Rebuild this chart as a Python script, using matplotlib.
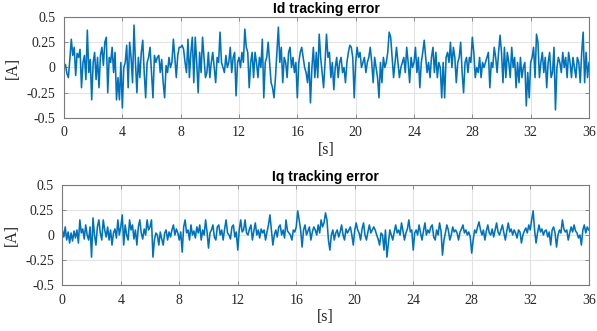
"""Id / Iq tracking error plots, MATLAB-like style."""

import numpy as np
import matplotlib

matplotlib.use("Agg")
import matplotlib.pyplot as plt

# sample time of the read-off data (s)
time_step = 0.1

id_error = [
    0.00, 0.03, -0.06, -0.10, 0.08, 0.28, 0.12, 0.20, -0.08, 0.14,
    0.10, 0.18, -0.20, 0.05, 0.12, -0.12, 0.37, -0.05, 0.08, -0.32,
    0.05, 0.15, -0.12, 0.10, -0.20, 0.12, 0.20, 0.02, 0.25, 0.30,
    -0.25, 0.10, 0.05, 0.20, -0.05, 0.15, -0.32, -0.10, -0.32, 0.05,
    -0.40, 0.00, 0.05, 0.22, -0.20, 0.25, 0.10, -0.15, 0.42, 0.05,
    -0.25, 0.10, -0.10, 0.15, 0.27, -0.05, -0.30, 0.05, 0.10, 0.20,
    -0.05, -0.30, 0.12, 0.05, 0.10, 0.12, -0.05, 0.08, -0.15, -0.30,
    0.02, -0.05, 0.10, 0.00, 0.05, 0.28, 0.10, -0.10, 0.12, 0.20,
    0.20, 0.22, 0.18, 0.05, -0.05, 0.28, -0.10, 0.15, 0.30, -0.15,
    0.30, 0.05, -0.25, 0.15, -0.05, 0.30, 0.10, -0.10, -0.05, 0.15,
    -0.10, 0.05, 0.15, 0.00, -0.15, 0.10, 0.05, 0.35, 0.05, 0.00,
    -0.05, 0.12, 0.00, 0.05, 0.20, -0.05, 0.10, 0.15, -0.28, 0.05,
    0.10, 0.00, 0.15, 0.05, 0.38, 0.20, 0.15, -0.20, 0.05, 0.15,
    -0.10, 0.15, 0.05, -0.10, 0.10, 0.00, 0.28, -0.30, 0.05, 0.10,
    0.25, 0.05, -0.15, -0.20, -0.30, -0.10, 0.15, 0.40, 0.05, 0.20,
    -0.15, 0.10, 0.05, -0.10, 0.15, 0.20, 0.00, 0.10, -0.05, 0.05,
    -0.30, 0.05, 0.15, 0.20, 0.10, 0.00, -0.05, -0.15, 0.05, -0.35,
    0.00, 0.20, -0.10, 0.15, -0.10, 0.33, 0.10, -0.05, -0.20, 0.05,
    0.33, 0.10, 0.15, -0.10, 0.05, -0.22, 0.00, 0.10, -0.10, 0.05,
    0.10, -0.05, 0.00, -0.15, 0.05, 0.15, 0.22, 0.20, 0.10, -0.30,
    0.05, 0.20, 0.10, 0.15, 0.00, 0.05, 0.10, -0.05, 0.05, 0.10,
    0.20, 0.05, -0.15, 0.10, 0.00, -0.10, -0.30, 0.05, -0.15, 0.10,
    0.00, 0.05, 0.15, 0.35, 0.30, 0.10, -0.10, 0.05, 0.20, 0.05,
    -0.10, 0.00, 0.05, 0.10, -0.05, 0.20, 0.05, -0.15, 0.10, 0.00,
    0.05, 0.20, -0.05, 0.10, -0.20, 0.05, 0.15, 0.27, 0.10, -0.05,
    0.05, -0.10, 0.10, 0.20, -0.05, 0.15, -0.10, 0.05, 0.00, -0.30,
    0.05, -0.30, 0.10, 0.15, 0.05, 0.25, 0.00, 0.20, 0.10, -0.15,
    0.05, 0.10, 0.25, -0.05, -0.25, 0.05, 0.10, -0.05, 0.10, 0.05,
    0.30, 0.15, -0.10, 0.00, -0.05, 0.10, -0.10, 0.05, 0.00, 0.05,
    0.10, 0.15, -0.20, 0.05, 0.00, 0.20, 0.10, -0.05, 0.15, 0.32,
    0.15, -0.15, 0.20, -0.10, 0.15, 0.05, -0.10, 0.20, 0.00, 0.10,
    -0.20, 0.05, -0.15, 0.10, -0.10, 0.00, 0.05, -0.38, -0.05, -0.30,
    0.05, 0.10, 0.20, -0.10, 0.33, 0.25, -0.10, 0.05, 0.15, -0.05,
    0.10, -0.20, 0.05, 0.15, -0.10, -0.05, 0.20, -0.42, 0.00, 0.10,
    0.05, -0.05, 0.15, 0.00, 0.10, -0.10, 0.15, 0.05, -0.10, 0.10,
    0.00, -0.10, 0.10, 0.05, -0.15, 0.15, 0.35, -0.15, 0.15, -0.10,
    0.05,
]

iq_error = [
    0.05, -0.02, 0.08, -0.05, 0.03, -0.08, 0.02, -0.06, 0.04, -0.03,
    0.05, -0.08, 0.15, 0.02, 0.06, -0.04, 0.10, 0.00, -0.05, 0.08,
    -0.22, 0.17, 0.00, -0.10, 0.08, 0.15, 0.02, -0.05, 0.15, 0.05,
    -0.02, 0.08, -0.05, 0.05, -0.10, 0.02, 0.06, -0.03, 0.15, 0.00,
    0.08, 0.20, -0.10, 0.10, 0.00, -0.05, 0.15, 0.05, 0.10, -0.04,
    0.05, -0.10, 0.08, 0.15, 0.02, -0.04, 0.06, 0.00, 0.15, 0.05,
    0.08, 0.15, -0.22, -0.05, 0.02, 0.00, -0.10, 0.03, -0.04, -0.10,
    0.02, 0.05, -0.05, 0.03, -0.02, 0.05, 0.10, 0.00, 0.06, 0.02,
    -0.05, 0.03, -0.17, 0.08, 0.15, 0.02, 0.05, -0.05, 0.10, 0.00,
    0.04, -0.03, 0.08, 0.02, 0.10, -0.05, 0.05, 0.00, 0.15, 0.03,
    -0.13, 0.02, 0.05, 0.10, -0.02, -0.05, 0.08, 0.10, 0.00, 0.05,
    -0.05, 0.06, 0.15, 0.02, 0.00, -0.04, 0.08, 0.10, -0.02, 0.03,
    -0.15, 0.05, 0.15, 0.03, 0.05, 0.15, 0.02, 0.00, 0.06, 0.10,
    -0.05, 0.04, 0.12, 0.00, 0.05, -0.03, 0.06, 0.02, 0.05, -0.05,
    0.03, 0.10, 0.20, 0.05, -0.10, 0.00, 0.05, -0.02, 0.08, 0.10,
    0.00, 0.05, -0.03, 0.15, 0.04, 0.02, 0.00, -0.05, 0.05, 0.03,
    0.08, 0.24, 0.15, 0.05, -0.12, 0.05, 0.10, 0.00, 0.04, 0.08,
    -0.05, 0.03, 0.08, 0.05, 0.00, 0.10, 0.02, 0.15, 0.08, 0.12,
    0.22, 0.15, -0.05, -0.15, 0.00, 0.05, -0.05, 0.02, 0.05, -0.02,
    0.03, 0.10, 0.00, -0.05, 0.06, 0.02, 0.05, 0.08, 0.00, -0.10,
    0.05, 0.12, 0.05, 0.02, -0.05, 0.06, 0.12, 0.00, -0.05, 0.03,
    0.10, 0.02, 0.05, 0.08, 0.05, 0.00, -0.04, -0.10, 0.02, 0.00,
    -0.15, 0.05, -0.22, -0.08, 0.05, 0.00, -0.05, 0.03, 0.10, 0.02,
    0.05, 0.00, 0.12, 0.04, -0.05, 0.02, 0.06, 0.15, 0.03, 0.05,
    -0.15, 0.02, 0.05, 0.00, 0.10, 0.02, -0.05, 0.04, 0.12, 0.00,
    0.05, 0.02, 0.08, 0.10, -0.02, -0.05, 0.05, 0.00, 0.12, 0.04,
    -0.20, -0.05, 0.02, 0.10, 0.05, -0.05, 0.00, 0.08, 0.03, 0.05,
    0.02, -0.05, 0.03, 0.06, 0.10, 0.02, 0.05, 0.00, 0.03, -0.02,
    -0.18, -0.05, 0.05, 0.02, 0.08, 0.13, 0.05, 0.00, 0.05, -0.05,
    0.04, 0.10, 0.02, 0.00, 0.06, -0.02, 0.05, 0.12, 0.03, 0.00,
    0.05, 0.10, 0.02, -0.05, 0.04, 0.12, 0.03, 0.06, 0.00, 0.05,
    0.02, -0.03, 0.05, 0.03, -0.08, 0.00, 0.04, 0.07, 0.02, 0.10,
    0.05, 0.15, 0.24, 0.05, -0.08, 0.02, 0.10, 0.03, 0.06, 0.00,
    0.04, 0.05, -0.02, 0.03, -0.10, 0.05, 0.08, 0.02, -0.12, 0.00,
    0.05, 0.02, 0.15, 0.06, 0.03, 0.05, -0.05, 0.02, 0.08, 0.03,
    0.10, 0.04, 0.02, -0.03, 0.00, -0.10, 0.05, 0.10, 0.02, 0.08,
    0.05,
]

x_ticks = [0, 4, 8, 12, 16, 20, 24, 28, 32, 36]
y_ticks = [-0.5, -0.25, 0, 0.25, 0.5]
y_tick_labels = ["-0.5", "-0.25", "0", "0.25", "0.5"]
titles = ["Id tracking error", "Iq tracking error"]

LINE_COLOR = "#0072BD"
SPINE_COLOR = "#7a7a7a"
TEXT_COLOR = "#262626"
SERIF = ["Liberation Serif", "DejaVu Serif"]
SANS = ["Liberation Sans", "DejaVu Sans"]


def _style_axes(ax, title):
    """Apply MATLAB-like look to one axes."""
    ax.set_xlim(0, 36)
    ax.set_ylim(-0.5, 0.5)
    ax.set_xticks(x_ticks)
    ax.set_yticks(y_ticks)
    ax.set_yticklabels(y_tick_labels)
    ax.grid(True, color="#e3e3e3", linewidth=0.8)
    ax.set_axisbelow(True)
    ax.tick_params(direction="in", length=3, width=0.6, colors=SPINE_COLOR,
                   labelcolor=TEXT_COLOR, labelsize=10, pad=6,
                   top=True, right=True)
    for label in ax.get_xticklabels() + ax.get_yticklabels():
        label.set_family(SERIF)
    for spine in ax.spines.values():
        spine.set_color(SPINE_COLOR)
        spine.set_linewidth(0.8)
    ax.set_title(title, family=SANS, fontweight="bold", fontsize=10,
                 color="black", pad=3)
    ax.set_xlabel("[s]", family=SERIF, fontsize=11.5, color=TEXT_COLOR, labelpad=2)
    ax.set_ylabel("[A]", family=SERIF, fontsize=11.5, color=TEXT_COLOR, labelpad=4)


def main():
    time = np.arange(len(id_error)) * time_step

    fig = plt.figure(figsize=(5.97, 3.31), dpi=100)
    ax_top = fig.add_axes([64 / 597, 1 - 118 / 331, 525 / 597, 101 / 331])
    ax_bot = fig.add_axes([62.3 / 597, 1 - 285.3 / 331, 526.4 / 597, 100.6 / 331])

    ax_top.plot(time, id_error, color=LINE_COLOR, linewidth=1.15)
    ax_bot.plot(time, iq_error, color=LINE_COLOR, linewidth=1.15)

    _style_axes(ax_top, titles[0])
    _style_axes(ax_bot, titles[1])

    fig.savefig("out.png", dpi=100)


if __name__ == "__main__":
    main()
